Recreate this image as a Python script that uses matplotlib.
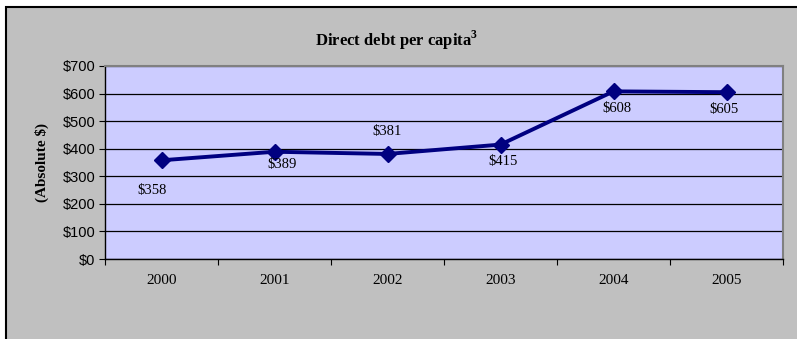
import matplotlib
matplotlib.use("Agg")
import matplotlib.pyplot as plt
from matplotlib.patches import Rectangle
import numpy as np

# data
years = ["2000", "2001", "2002", "2003", "2004", "2005"]
debt = [358, 389, 381, 415, 608, 605]
# label offsets in pixels (dx, dy) so they sit like the original
label_offsets = [(-9, -30), (8, -13), (0, 22), (3, -17), (3, -17), (-3, -17)]

plt.rcParams["mathtext.fontset"] = "custom"
plt.rcParams["mathtext.rm"] = "Liberation Serif"
plt.rcParams["mathtext.bf"] = "Liberation Serif:bold"

fig = plt.figure(figsize=(7.97, 3.39), dpi=100)
fig.patch.set_facecolor("white")

# gray chart area with black frame on left/top
bg = Rectangle((6 / 797, -0.1), 1.2, 1 - 7 / 339 + 0.1, transform=fig.transFigure,
               facecolor="#c0c0c0", edgecolor="black", linewidth=1.5, zorder=-1)
fig.patches.append(bg)

ax = fig.add_axes([105 / 797, 80 / 339, 678 / 797, 193 / 339])
ax.set_zorder(2)
ax.set_facecolor("#ccccff")

x = np.arange(len(years))
ax.plot(x, debt, color="#000080", linewidth=2.8, marker="D", markersize=8, zorder=3)

for xi, val, (dx, dy) in zip(x, debt, label_offsets):
    ax.annotate("$%d" % val, (xi, val), xytext=(dx, dy), textcoords="offset pixels",
                ha="center", va="center", fontsize=10.5, family="Liberation Serif",
                color="black")

ax.set_ylim(0, 700)
ax.set_xlim(-0.5, len(years) - 0.5)
ax.set_yticks(np.arange(0, 701, 100))
ax.set_yticklabels(["$%d" % v for v in range(0, 701, 100)], family="Liberation Sans", fontsize=10.5)
ax.yaxis.grid(True, color="black", linewidth=0.9)
ax.set_axisbelow(True)

# ticks between categories, labels at category centers
ax.set_xticks(np.arange(-0.5, len(years), 1.0))
ax.set_xticklabels([])
ax.set_xticks(x, minor=True)
ax.set_xticklabels(years, minor=True, family="Liberation Serif", fontsize=11)
ax.tick_params(axis="x", which="minor", length=0, pad=11)
ax.tick_params(axis="x", which="major", length=4, direction="out", color="black")
ax.tick_params(axis="y", length=4, direction="out", color="black", pad=3)

for side in ["top", "right"]:
    ax.spines[side].set_color("#808080")
    ax.spines[side].set_linewidth(1.5)
for side in ["left", "bottom"]:
    ax.spines[side].set_color("black")
    ax.spines[side].set_linewidth(1.0)

ax.set_ylabel("(Absolute $)", family="Liberation Serif", fontweight="bold", fontsize=11, labelpad=10)

fig.text(397 / 797, 1 - 40 / 339, r"Direct debt per capita$^{\mathbf{3}}$", ha="center", va="center",
         family="Liberation Serif", fontweight="bold", fontsize=12)

fig.savefig("out.png", dpi=100)
